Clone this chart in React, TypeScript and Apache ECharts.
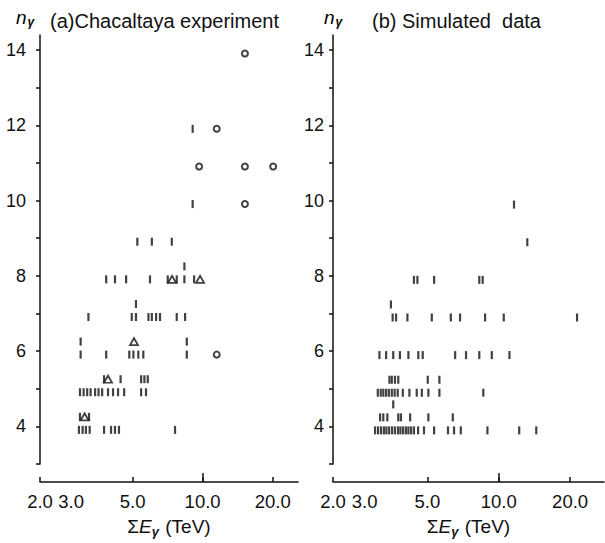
import React, { useEffect, useRef } from 'react';
import * as echarts from 'echarts';

// ---------- data (ΣEγ in TeV, nγ, stacking row for coinciding events) ----------
// Panel (a) Chacaltaya experiment
const A_BARS: [number, number, number][] = [
  [2.94, 4, 0], [3.05, 4, 0], [3.15, 4, 0], [3.27, 4, 0], [3.77, 4, 0], [4.04, 4, 0], [4.2, 4, 0], [4.37, 4, 0], [7.61, 4, 0],
  [2.97, 4, 1], [3.25, 4, 1],
  [2.97, 5, 0], [3.08, 5, 0], [3.19, 5, 0], [3.3, 5, 0], [3.45, 5, 0], [3.57, 5, 0], [3.7, 5, 0], [3.92, 5, 0], [4.12, 5, 0], [4.33, 5, 0], [4.6, 5, 0], [5.44, 5, 0], [5.71, 5, 0],
  [3.77, 5, 1], [4.44, 5, 1], [5.44, 5, 1], [5.62, 5, 1], [5.81, 5, 1],
  [2.99, 6, 0], [3.85, 6, 0], [4.84, 6, 0], [5.04, 6, 0], [5.29, 6, 0], [5.56, 6, 0], [8.55, 6, 0],
  [2.99, 6, 1], [8.55, 6, 1],
  [3.23, 7, 0], [4.96, 7, 0], [5.17, 7, 0], [5.85, 7, 0], [6.05, 7, 0], [6.31, 7, 0], [6.56, 7, 0], [7.74, 7, 0], [8.41, 7, 0],
  [5.17, 7, 1],
  [3.85, 8, 0], [4.2, 8, 0], [4.69, 8, 0], [5.94, 8, 0], [7.08, 8, 0], [7.74, 8, 0], [8.35, 8, 0], [9.19, 8, 0],
  [8.35, 8, 1],
  [5.24, 9, 0], [6.05, 9, 0], [7.37, 9, 0],
  [9.06, 10, 0], [9.06, 12, 0],
];
const A_TRIANGLES: [number, number, number][] = [
  [3.11, 4, 1], [3.92, 5, 1], [5.07, 6, 1], [7.39, 8, 0], [9.75, 8, 0],
];
const A_CIRCLES: [number, number, number][] = [
  [11.5, 6, 0], [15.2, 10, 0], [9.66, 11, 0], [15.2, 11, 0], [20.1, 11, 0], [11.5, 12, 0], [15.2, 14, 0],
];

// Panel (b) Simulated data
const B_BARS: [number, number, number][] = [
  [3.01, 4, 0], [3.1, 4, 0], [3.19, 4, 0], [3.28, 4, 0], [3.36, 4, 0], [3.45, 4, 0], [3.55, 4, 0], [3.65, 4, 0], [3.76, 4, 0], [3.85, 4, 0], [3.95, 4, 0], [4.06, 4, 0], [4.16, 4, 0], [4.27, 4, 0], [4.39, 4, 0], [4.57, 4, 0], [4.84, 4, 0], [5.34, 4, 0], [6.11, 4, 0], [6.48, 4, 0], [6.92, 4, 0], [8.96, 4, 0], [12.2, 4, 0], [14.4, 4, 0],
  [3.16, 4, 1], [3.26, 4, 1], [3.39, 4, 1], [3.77, 4, 1], [3.87, 4, 1], [4.23, 4, 1], [5.05, 4, 1], [6.4, 4, 1],
  [3.59, 4, 2],
  [3.09, 5, 0], [3.18, 5, 0], [3.26, 5, 0], [3.35, 5, 0], [3.44, 5, 0], [3.54, 5, 0], [3.64, 5, 0], [3.75, 5, 0], [3.94, 5, 0], [4.2, 5, 0], [4.51, 5, 0], [4.74, 5, 0], [5.05, 5, 0], [5.62, 5, 0], [8.61, 5, 0],
  [3.46, 5, 1], [3.54, 5, 1], [3.65, 5, 1], [3.77, 5, 1], [5.02, 5, 1], [5.62, 5, 1],
  [3.14, 6, 0], [3.35, 6, 0], [3.59, 6, 0], [3.83, 6, 0], [4.16, 6, 0], [4.58, 6, 0], [4.78, 6, 0], [6.55, 6, 0], [7.28, 6, 0], [8.28, 6, 0], [9.35, 6, 0], [11.1, 6, 0],
  [3.57, 7, 0], [3.69, 7, 0], [4.12, 7, 0], [5.22, 7, 0], [6.28, 7, 0], [6.87, 7, 0], [8.76, 7, 0], [10.5, 7, 0], [21.4, 7, 0],
  [3.51, 7, 1],
  [4.39, 8, 0], [4.54, 8, 0], [5.34, 8, 0], [8.28, 8, 0], [8.56, 8, 0],
  [13.2, 9, 0],
  [11.6, 10, 0],
];

// axes
const X_MIN_E = 2;
const X_MAX_E_A = 25.7;
const X_MAX_E_B = 27.8;
const X_TICKS_E = [2, 5, 10, 20];
const X_MAJOR_TICK_E = [10];
const X_LABEL_TEXT = ['2.0', '3.0', '5.0', '10.0', '20.0'];
const X_LABEL_AT_E = [2, 2.72, 5, 10, 20];
const Y_MIN = 3;
const Y_MAX = 14.4;
const Y_TICKS = [3, 4, 5, 6, 7, 8, 9, 10, 11, 12, 13, 14];
const Y_LABELS = [4, 6, 8, 10, 12, 14];

const LOG = (v: number) => Math.log10(v);
const INK = '#111';
const FONT = 'Liberation Sans';
const X_LO = LOG(X_MIN_E) - 1e-6;

function pts(list: [number, number, number][], base: number) {
  return list.map(([e, n, lv]) => ({ value: [LOG(e), n], symbolOffset: [0, base - 13 * lv] }));
}

function xLabel(v: number) {
  for (let i = 0; i < X_LABEL_AT_E.length; i++) {
    if (Math.abs(LOG(X_LABEL_AT_E[i]) - v) < 1e-4) return X_LABEL_TEXT[i];
  }
  return '';
}

const xName = '{s|Σ}{e|E}{g|γ}{t| (TeV)}';
const xNameStyle = {
  color: INK,
  fontFamily: FONT,
  rich: {
    s: { fontSize: 19, fontFamily: FONT, color: INK },
    e: { fontSize: 19, fontStyle: 'italic', fontFamily: FONT, color: INK },
    g: { fontSize: 13, fontStyle: 'italic', fontWeight: 'bold', fontFamily: FONT, color: INK, padding: [10, 1, 0, 0] },
    t: { fontSize: 19, fontFamily: FONT, color: INK },
  },
};

function mainX(grid: number, maxE: number) {
  return {
    type: 'value',
    gridIndex: grid,
    position: 'bottom',
    min: X_LO,
    max: LOG(maxE),
    offset: 18,
    splitLine: { show: false },
    axisLine: { show: true, lineStyle: { color: INK, width: 1.5 } },
    axisTick: { show: true, inside: true, length: 5, customValues: X_TICKS_E.map(LOG), lineStyle: { color: INK, width: 1.5 } },
    axisLabel: {
      customValues: X_LABEL_AT_E.map(LOG), formatter: xLabel, showMinLabel: true, showMaxLabel: true, hideOverlap: false,
      fontSize: 18.5, fontFamily: FONT, color: INK, margin: 10,
    },
    name: xName,
    nameLocation: 'middle',
    nameGap: 33,
    nameTextStyle: xNameStyle,
  };
}

function majorX(grid: number, maxE: number) {
  return {
    type: 'value',
    gridIndex: grid,
    position: 'bottom',
    min: X_LO,
    max: LOG(maxE),
    offset: 18,
    splitLine: { show: false },
    axisLine: { show: false },
    axisTick: { show: true, inside: true, length: 9, customValues: X_MAJOR_TICK_E.map(LOG), lineStyle: { color: INK, width: 1.5 } },
    axisLabel: { show: false },
  };
}

function yAx(grid: number, margin: number) {
  return {
    type: 'value',
    gridIndex: grid,
    position: 'left',
    min: Y_MIN,
    max: Y_MAX,
    splitLine: { show: false },
    axisLine: { show: true, lineStyle: { color: INK, width: 1.5 } },
    axisTick: { show: true, inside: false, length: 4, customValues: Y_TICKS, lineStyle: { color: INK, width: 1.5 } },
    axisLabel: { customValues: Y_LABELS, formatter: (v: number) => String(v), fontSize: 18, fontFamily: FONT, color: INK, margin },
  };
}

function series(xi: number, yi: number, bars: any[], circles: any[], tris: any[]) {
  return [
    { type: 'scatter', xAxisIndex: xi, yAxisIndex: yi, symbol: 'rect', symbolSize: [2.2, 8], itemStyle: { color: INK }, data: bars },
    { type: 'scatter', xAxisIndex: xi, yAxisIndex: yi, symbol: 'circle', symbolSize: 6, itemStyle: { color: '#fff', borderColor: INK, borderWidth: 2 }, data: circles },
    { type: 'scatter', xAxisIndex: xi, yAxisIndex: yi, symbol: 'triangle', symbolSize: [8, 7], itemStyle: { color: '#fff', borderColor: INK, borderWidth: 1.8 }, data: tris },
  ];
}

const nRich = {
  n: { fontSize: 19, fontStyle: 'italic', fontFamily: FONT, color: INK },
  g: { fontSize: 12, fontStyle: 'italic', fontWeight: 'bold', fontFamily: FONT, color: INK, padding: [9, 0, 0, 1] },
};

export default function App() {
  const ref = useRef<HTMLDivElement>(null);
  useEffect(() => {
    document.body.style.margin = '0';
    if (!ref.current) return;
    const chart = echarts.init(ref.current, undefined, { renderer: 'svg' });
    chart.setOption({
      animation: false,
      backgroundColor: '#fff',
      grid: [
        { left: 40, top: 35, width: 258, height: 429 },
        { left: 333, top: 35, width: 271, height: 429 },
      ],
      xAxis: [mainX(0, X_MAX_E_A), majorX(0, X_MAX_E_A), mainX(1, X_MAX_E_B), majorX(1, X_MAX_E_B)],
      yAxis: [yAx(0, 14), yAx(1, 9)],
      series: [
        ...series(0, 0, pts(A_BARS, 3.5), pts(A_CIRCLES, 3.5), pts(A_TRIANGLES, 3.5)),
        ...series(2, 1, pts(B_BARS, 4), [], []),
      ],
      graphic: [
        { type: 'text', left: 16, top: 8, style: { text: '{n|n}{g|γ}', rich: nRich } },
        { type: 'text', left: 50, top: 11, style: { text: '(a)Chacaltaya experiment', fontSize: 20, fontFamily: FONT, fill: INK } },
        { type: 'text', left: 324, top: 8, style: { text: '{n|n}{g|γ}', rich: nRich } },
        { type: 'text', left: 372, top: 11, style: { text: '(b) Simulated  data', fontSize: 20, fontFamily: FONT, fill: INK } },
      ],
    });
    return () => chart.dispose();
  }, []);
  return <div ref={ref} style={{ width: 605, height: 543 }} />;
}
